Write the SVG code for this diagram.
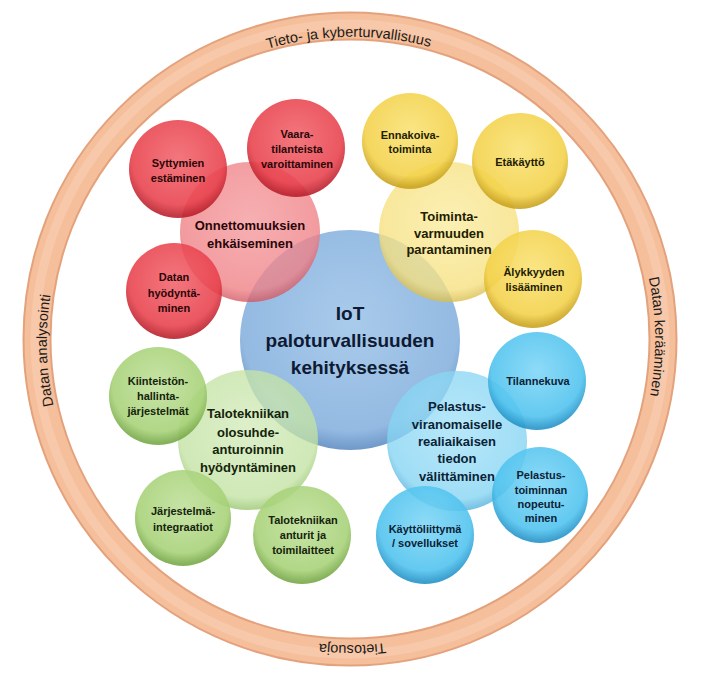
<svg xmlns="http://www.w3.org/2000/svg" width="702" height="676" viewBox="0 0 702 676">
<defs>
<radialGradient id="gCentral" cx="50%" cy="42%" r="58%">
<stop offset="0" stop-color="#A9CBEB"/><stop offset="0.85" stop-color="#94BAE2"/><stop offset="1" stop-color="#6F98C9"/>
</radialGradient>
<radialGradient id="gRedS" cx="50%" cy="40%" r="58%">
<stop offset="0" stop-color="#F2646C"/><stop offset="0.8" stop-color="#E8404B"/><stop offset="1" stop-color="#B91E2A"/>
</radialGradient>
<radialGradient id="gRedB" cx="50%" cy="42%" r="58%">
<stop offset="0" stop-color="#F4999C"/><stop offset="0.85" stop-color="#EF7F84"/><stop offset="1" stop-color="#D25560"/>
</radialGradient>
<radialGradient id="gYelS" cx="50%" cy="40%" r="58%">
<stop offset="0" stop-color="#F9E274"/><stop offset="0.8" stop-color="#F3D148"/><stop offset="1" stop-color="#C9A21C"/>
</radialGradient>
<radialGradient id="gYelB" cx="50%" cy="42%" r="58%">
<stop offset="0" stop-color="#FAEC9E"/><stop offset="0.85" stop-color="#F6E07E"/><stop offset="1" stop-color="#D8BC4A"/>
</radialGradient>
<radialGradient id="gGrnS" cx="50%" cy="40%" r="58%">
<stop offset="0" stop-color="#BFE09A"/><stop offset="0.8" stop-color="#A6D176"/><stop offset="1" stop-color="#76A846"/>
</radialGradient>
<radialGradient id="gGrnB" cx="50%" cy="42%" r="58%">
<stop offset="0" stop-color="#D3EBBB"/><stop offset="0.85" stop-color="#C2E2A2"/><stop offset="1" stop-color="#96C46C"/>
</radialGradient>
<radialGradient id="gCyS" cx="50%" cy="40%" r="58%">
<stop offset="0" stop-color="#7ED6F6"/><stop offset="0.8" stop-color="#4EC2EE"/><stop offset="1" stop-color="#2292C8"/>
</radialGradient>
<radialGradient id="gCyB" cx="50%" cy="42%" r="58%">
<stop offset="0" stop-color="#A4E1F7"/><stop offset="0.85" stop-color="#84D4F3"/><stop offset="1" stop-color="#4EAEDB"/>
</radialGradient>
<path id="ringPath" d="M 565.25,555.25 A 303 303 0 1 1 136.75,126.75 A 303 303 0 1 1 565.25,555.25"/>
</defs>
<style>
text{font-family:"Liberation Sans",Arial,sans-serif;text-anchor:middle}
.s{font-size:11px;font-weight:bold}
.b{font-size:13px;font-weight:bold}
.c{font-size:19px;font-weight:bold;fill:#0E1A33}
.ring{font-size:14.5px;fill:#1A1A1A}
.red text{fill:#2A0608}
.yel text{fill:#231C00}
.grn text{fill:#14230A}
.cy text{fill:#0A2236}
.big{opacity:0.78}
.sm{opacity:0.88}
</style>
<rect width="702" height="676" fill="#FFFFFF"/>
<g id="ring">
<circle cx="350" cy="339" r="313" fill="none" stroke="#E4A27C" stroke-width="29"/>
<circle cx="350" cy="339" r="313" fill="none" stroke="#F5BF9C" stroke-width="25"/>
<circle cx="350" cy="339" r="315" fill="none" stroke="#F8CCAF" stroke-width="9" opacity="0.7"/>
<text class="ring"><textPath href="#ringPath" startOffset="1191">Tieto- ja kyberturvallisuus</textPath></text>
<text class="ring"><textPath href="#ringPath" startOffset="1667">Datan kerääminen</textPath></text>
<text class="ring"><textPath href="#ringPath" startOffset="237">Tietosuoja</textPath></text>
<text class="ring"><textPath href="#ringPath" startOffset="707">Datan analysointi</textPath></text>
</g>
<g id="central">
<circle cx="350" cy="340" r="110" fill="url(#gCentral)"/>
</g>
<g id="onnettomuuksien" class="red">
<circle class="big" cx="250" cy="232" r="70" fill="url(#gRedB)"/>
</g>
<g id="toimintavarmuuden" class="yel">
<circle class="big" cx="449" cy="232" r="70" fill="url(#gYelB)"/>
</g>
<g id="talotekniikan-olosuhde" class="grn">
<circle class="big" cx="248" cy="440" r="70" fill="url(#gGrnB)"/>
</g>
<g id="pelastusviranomaiselle" class="cy">
<circle class="big" cx="457" cy="441" r="70" fill="url(#gCyB)"/>
</g>
<g id="syttymien" class="red">
<circle class="sm" cx="178" cy="169" r="49" fill="url(#gRedS)"/>
<text class="s" x="178" y="167">Syttymien</text>
<text class="s" x="178" y="182">estäminen</text>
</g>
<g id="vaaratilanteista" class="red">
<circle class="sm" cx="296" cy="148" r="49" fill="url(#gRedS)"/>
<text class="s" x="297" y="138">Vaara-</text>
<text class="s" x="297" y="153">tilanteista</text>
<text class="s" x="297" y="168">varoittaminen</text>
</g>
<g id="datan-hyodyntaminen" class="red">
<circle class="sm" cx="174" cy="291" r="48" fill="url(#gRedS)"/>
<text class="s" x="174" y="281">Datan</text>
<text class="s" x="174" y="297">hyödyntä-</text>
<text class="s" x="174" y="312">minen</text>
</g>
<g id="ennakoiva" class="yel">
<circle class="sm" cx="410" cy="141" r="48" fill="url(#gYelS)"/>
<text class="s" x="410" y="139">Ennakoiva-</text>
<text class="s" x="410" y="153">toiminta</text>
</g>
<g id="etakaytto" class="yel">
<circle class="sm" cx="520" cy="161" r="48" fill="url(#gYelS)"/>
<text class="s" x="520" y="166">Etäkäyttö</text>
</g>
<g id="alykkyyden" class="yel">
<circle class="sm" cx="533" cy="279" r="49" fill="url(#gYelS)"/>
<text class="s" x="534" y="276">Älykkyyden</text>
<text class="s" x="534" y="291">lisääminen</text>
</g>
<g id="kiinteiston" class="grn">
<circle class="sm" cx="158" cy="396" r="49" fill="url(#gGrnS)"/>
<text class="s" x="158" y="385">Kiinteistön-</text>
<text class="s" x="158" y="400">hallinta-</text>
<text class="s" x="158" y="415">järjestelmät</text>
</g>
<g id="jarjestelmaintegraatiot" class="grn">
<circle class="sm" cx="183" cy="518" r="48" fill="url(#gGrnS)"/>
<text class="s" x="183" y="515">Järjestelmä-</text>
<text class="s" x="183" y="531">integraatiot</text>
</g>
<g id="talotekniikan-anturit" class="grn">
<circle class="sm" cx="302" cy="535" r="49" fill="url(#gGrnS)"/>
<text class="s" x="303" y="524">Talotekniikan</text>
<text class="s" x="303" y="539">anturit ja</text>
<text class="s" x="303" y="554">toimilaitteet</text>
</g>
<g id="tilannekuva" class="cy">
<circle class="sm" cx="537" cy="381" r="49" fill="url(#gCyS)"/>
<text class="s" x="538" y="385">Tilannekuva</text>
</g>
<g id="pelastustoiminnan" class="cy">
<circle class="sm" cx="540" cy="495" r="48" fill="url(#gCyS)"/>
<text class="s" x="541" y="479">Pelastus-</text>
<text class="s" x="541" y="494">toiminnan</text>
<text class="s" x="541" y="508">nopeutu-</text>
<text class="s" x="541" y="522">minen</text>
</g>
<g id="kayttoliittyma" class="cy">
<circle class="sm" cx="425" cy="535" r="49" fill="url(#gCyS)"/>
<text class="s" x="425" y="533">Käyttöliittymä</text>
<text class="s" x="425" y="547">/ sovellukset</text>
</g>
<g id="labels-big">
<g class="red">
<text class="b" x="250" y="230">Onnettomuuksien</text>
<text class="b" x="250" y="248">ehkäiseminen</text>
</g>
<g class="yel">
<text class="b" x="449" y="221">Toiminta-</text>
<text class="b" x="449" y="238">varmuuden</text>
<text class="b" x="449" y="254">parantaminen</text>
</g>
<g class="grn">
<text class="b" x="248" y="418">Talotekniikan</text>
<text class="b" x="248" y="437">olosuhde-</text>
<text class="b" x="248" y="454">anturoinnin</text>
<text class="b" x="248" y="472">hyödyntäminen</text>
</g>
<g class="cy">
<text class="b" x="457" y="411">Pelastus-</text>
<text class="b" x="457" y="429">viranomaiselle</text>
<text class="b" x="457" y="446">realiaikaisen</text>
<text class="b" x="457" y="463">tiedon</text>
<text class="b" x="457" y="481">välittäminen</text>
</g>
<g id="central-label">
<text class="c" x="350" y="320">IoT</text>
<text class="c" x="350" y="347">paloturvallisuuden</text>
<text class="c" x="350" y="374">kehityksessä</text>
</g>
</g>
</svg>
